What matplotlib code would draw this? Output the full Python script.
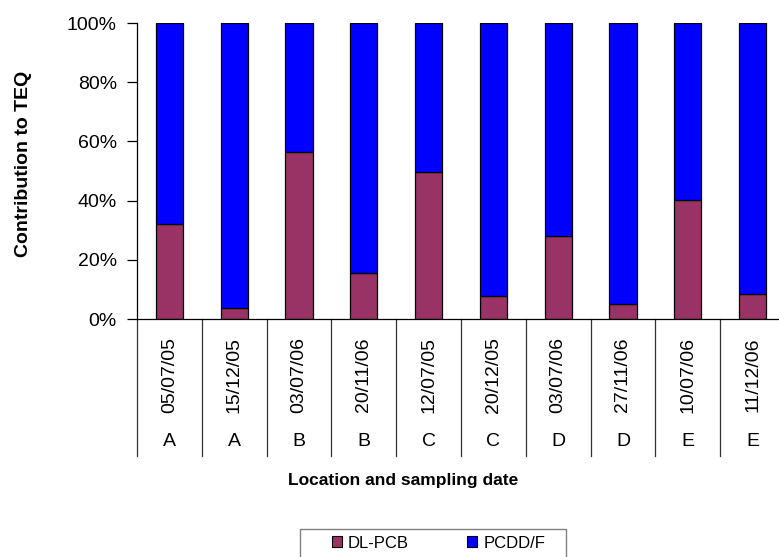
import matplotlib
matplotlib.use("Agg")
import matplotlib.pyplot as plt
from matplotlib.patches import Patch, Rectangle

plt.rcParams['font.family'] = ['Liberation Sans', 'DejaVu Sans']

# sampling campaigns: location letter + date, share of TEQ from DL-PCB (%)
locations = ['A', 'A', 'B', 'B', 'C', 'C', 'D', 'D', 'E', 'E']
dates = ['05/07/05', '15/12/05', '03/07/06', '20/11/06', '12/07/05',
         '20/12/05', '03/07/06', '27/11/06', '10/07/06', '11/12/06']
dl_pcb = [32.2, 3.6, 56.5, 15.5, 49.6, 7.9, 27.9, 5.2, 40.3, 8.6]
pcdd_f = [100 - v for v in dl_pcb]

W, H = 779, 557
fig = plt.figure(figsize=(W / 100, H / 100), dpi=100)

# axes box in pixels: left 137, right 785 (runs past the edge), top 23, bottom 319
left, right, top, bottom = 137, 785, 23, 319
ax = fig.add_axes([left / W, 1 - bottom / H, (right - left) / W, (bottom - top) / H])

x = list(range(len(dates)))
ax.bar(x, dl_pcb, width=0.42, color='#993366', edgecolor='black', linewidth=0.9, label='DL-PCB')
ax.bar(x, pcdd_f, width=0.42, bottom=dl_pcb, color='#0000FF', edgecolor='black', linewidth=0.9,
       label='PCDD/F')

ax.set_xlim(-0.5, len(dates) - 0.5)
ax.set_ylim(0, 100)
ax.set_yticks([0, 20, 40, 60, 80, 100])
ax.set_yticklabels([f'{v}%' for v in [0, 20, 40, 60, 80, 100]], fontsize=14)
ax.tick_params(axis='y', length=7, width=0.9, pad=7.5)
ax.set_xticks([])
for s in ['top', 'right']:
    ax.spines[s].set_visible(False)
ax.spines['left'].set_linewidth(0.9)
ax.spines['bottom'].set_linewidth(0.9)

# two-level category axis: separators, dates and location letters
sep_bottom = -(456 - bottom) / (bottom - top)
trans = ax.get_xaxis_transform()
for b in range(len(dates) + 1):
    ax.plot([b - 0.5, b - 0.5], [0, sep_bottom], transform=trans, color='#333333',
            linewidth=0.9, clip_on=False)
date_y = -(375 - bottom) / (bottom - top)
loc_y = -(441 - bottom) / (bottom - top)
for i in x:
    ax.text(i, date_y, dates[i], transform=trans, rotation=90, ha='center', va='center',
            fontsize=14)
    ax.text(i, loc_y, locations[i], transform=trans, ha='center', va='center', fontsize=14)

fig.text(24 / W, 1 - 164 / H, 'Contribution to TEQ', rotation=90, ha='center', va='center',
         fontsize=14, fontweight='bold')
fig.text(403 / W, 1 - 480 / H, 'Location and sampling date', ha='center', va='center',
         fontsize=12.5, fontweight='bold')

# legend with a plain square frame
handles = [Patch(facecolor='#993366', edgecolor='black', linewidth=0.8, label='DL-PCB'),
           Patch(facecolor='#0000FF', edgecolor='black', linewidth=0.8, label='PCDD/F')]
fig.legend(handles=handles, loc='center left', bbox_to_anchor=(332 / W, 1 - 543 / H),
           ncol=2, frameon=False, fontsize=12, handlelength=0.6, handleheight=0.6,
           handletextpad=0.36, columnspacing=3.5, borderpad=0, borderaxespad=0)
fig.patches.append(Rectangle((300 / W, -0.02), 266 / W, 1 - 529 / H + 0.02,
                             transform=fig.transFigure, fill=False, edgecolor='#808080',
                             linewidth=1.0))

fig.savefig('out.png', dpi=100)
